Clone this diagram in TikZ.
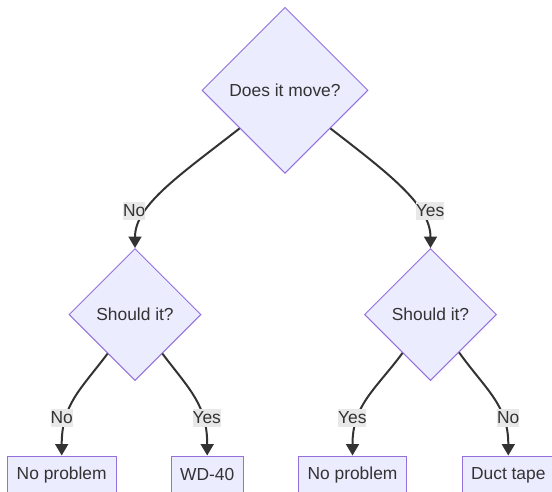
\documentclass[tikz,border=0pt]{standalone}
\usepackage{fontspec}
\setmainfont{Liberation Sans}
\usetikzlibrary{shapes.geometric,arrows.meta}
\definecolor{nodefill}{HTML}{ECECFF}
\definecolor{nodeline}{HTML}{9370DB}
\definecolor{ink}{HTML}{333333}
\definecolor{lblbg}{HTML}{E8E8E8}
\begin{document}
\begin{tikzpicture}[x=1pt,y=-1pt,
  font=\fontsize{17.4}{20}\selectfont, text=ink,
  decision/.style={diamond, aspect=1, draw=nodeline, fill=nodefill, line width=1pt, inner sep=0pt},
  outcome/.style={rectangle, draw=nodeline, fill=nodefill, line width=1pt, minimum height=38pt, inner sep=0pt},
  edge/.style={draw=ink, line width=2pt, -{Triangle[length=11.5pt,width=13pt]}},
  lbl/.style={fill=lblbg, inner sep=0pt, text height=14.5pt, text depth=3.5pt}]
\useasboundingbox (0,0) rectangle (552,491);
\clip (0,0) rectangle (552,491);
\node[decision, minimum width=166pt, minimum height=166pt] (q0) at (285,90.3) {Does it move?};
\node[decision, minimum width=132pt, minimum height=132pt] (q1) at (135,314.5) {Should it?};
\node[decision, minimum width=132pt, minimum height=132pt] (q2) at (430.5,314.5) {Should it?};
\node[outcome, minimum width=108.7pt] (a1) at (61.7,475) {No problem};
\node[outcome, minimum width=72.3pt] (a2) at (207.2,475) {WD-40};
\node[outcome, minimum width=108.4pt] (a3) at (352.5,475) {No problem};
\node[outcome, minimum width=92pt] (a4) at (508.3,475) {Duct tape};
\draw[edge] (q0.220) .. controls (180,175) and (135,205) .. (q1.north);
\draw[edge] (q0.-40) .. controls (388,173) and (430.5,205) .. (q2.north);
\draw[edge] (q1.235) .. controls (80,390) and (61.7,405) .. (a1.north);
\draw[edge] (q1.-55) .. controls (190,390) and (207.2,405) .. (a2.north);
\draw[edge] (q2.234) .. controls (375,390) and (352.5,405) .. (a3.north);
\draw[edge] (q2.-53) .. controls (486,390) and (508.3,405) .. (a4.north);
\node[lbl] (l0) at (134.3,211) {No};
\node[lbl] (l1) at (430,210.7) {Yes};
\node[lbl] (l2) at (61.7,418.3) {No};
\node[lbl] (l3) at (206.7,418.3) {Yes};
\node[lbl] (l4) at (352.3,418.3) {Yes};
\node[lbl] (l5) at (508.3,418.3) {No};
\end{tikzpicture}
\end{document}
